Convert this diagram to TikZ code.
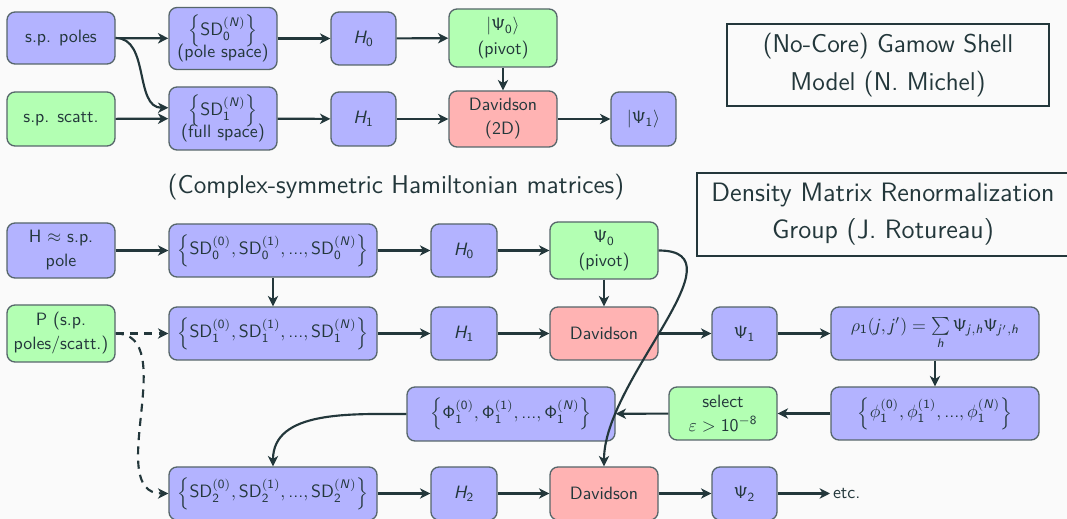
\documentclass[tikz,border=0pt]{standalone}
\usetikzlibrary{arrows.meta}
\DeclareMathAlphabet{\msf}{OT1}{cmss}{m}{n}
\DeclareMathAlphabet{\msfi}{OT1}{cmss}{m}{sl}
\newcommand\mysdset[1]{\left\{\msf{SD}_{\msf{#1}}^{(\msf{0})},\msf{SD}_{\msf{#1}}^{(\msf{1})},\mbox{...},\msf{SD}_{\msf{#1}}^{(\msfi{N})}\right\}}
\definecolor{tc}{HTML}{23373B}
\definecolor{bgc}{HTML}{FAFAFA}
\definecolor{bfill}{HTML}{B3B3FF}
\definecolor{gfill}{HTML}{B3FFB3}
\definecolor{rfill}{HTML}{FFB3B3}
\definecolor{bd}{HTML}{56666A}
\newdimen\pxu \pxu=0.56pt
\begin{document}
\begin{tikzpicture}[x=0.56pt,y=-0.56pt,
  font=\sffamily\fontsize{10}{13.4}\selectfont, text=tc,
  sz/.style 2 args={minimum width=#1\pxu, minimum height=#2\pxu},
  bx/.style={draw=bd, line width=0.75pt, rounded corners=4.5pt, align=center, inner sep=0pt, text=tc},
  bl/.style={bx, fill=bfill}, gr/.style={bx, fill=gfill}, rd/.style={bx, fill=rfill},
  bigtxt/.style={font=\sffamily\fontsize{14.4}{21.5}\selectfont, align=center, text=tc},
  ar/.style={draw=tc, line width=1.2pt, -{Stealth[length=5.8pt,width=5.8pt,inset=1.7pt]}},
  dar/.style={ar, dash pattern=on 4.5pt off 3.5pt}]
\useasboundingbox[fill=bgc] (0,0) rectangle (1067,519);
% ---------- top part ----------
\node[bl, sz={108}{52}] (poles) at (61,38) {s.p. poles};
\node[gr, sz={108}{54}] (scatt) at (61,119) {s.p. scatt.};
\node[bl, sz={108}{62}] (sdz) at (223,38.5) {$\left\{\msf{SD}_{\msf{0}}^{(\msfi{N})}\right\}$\\[-3pt](pole space)};
\node[bl, sz={108}{63}] (sdo) at (223,118.5) {$\left\{\msf{SD}_{\msf{1}}^{(\msfi{N})}\right\}$\\[-3pt](full space)};
\node[bl, sz={65}{53}] (hzt) at (363.5,38.5) {$\msfi{H}_{\msf{0}}$};
\node[bl, sz={65}{54}] (hot) at (363.5,119) {$\msfi{H}_{\msf{1}}$};
\node[gr, sz={108}{58}] (psizt) at (503,38) {$|\msf{\Psi}_{\msf{0}}\rangle$\\(pivot)};
\node[rd, sz={108}{56}] (davt) at (503,119) {Davidson\\(2D)};
\node[bl, sz={65}{54}] (psiot) at (643.5,119) {$|\msf{\Psi}_{\msf{1}}\rangle$};
\node[draw=tc, line width=1pt, sz={322}{82}, bigtxt] (t1) at (888,65) {(No-Core) Gamow Shell\\Model (N. Michel)};
\node[bigtxt] (cs) at (396,187) {(Complex-symmetric Hamiltonian matrices)};
\draw[tc, line width=1pt] (697,173) rectangle (1090,256);
\node[bigtxt, font=\sffamily\fontsize{14.9}{21}\selectfont] (t2) at (883,214) {Density Matrix Renormalization\\Group (J. Rotureau)};
\draw[ar] (poles) -- (sdz);
\draw[ar] (poles.east) to[out=0,in=180] ([yshift=6pt]sdo.west);
\draw[ar] (scatt) -- (sdo);
\draw[ar] (sdz) -- (hzt);
\draw[ar] (sdo) -- (hot);
\draw[ar] (hzt) -- (psizt);
\draw[ar] (hot) -- (davt);
\draw[ar] (psizt) -- (davt);
\draw[ar] (davt) -- (psiot);
% ---------- bottom part ----------
\node[bl, sz={108}{55}] (hsp) at (61,250.5) {H $\approx$ s.p.\\pole};
\node[gr, sz={108}{57}] (pp) at (61,333.5) {P (s.p.\\poles/scatt.)};
\node[bl, sz={208}{53}] (rz) at (273,250.5) {$\mysdset{0}$};
\node[bl, sz={208}{53}] (ro) at (273,333.5) {$\mysdset{1}$};
\node[bl, sz={208}{53}] (rt) at (273,493.5) {$\mysdset{2}$};
\node[bl, sz={66}{53}] (hz) at (464,250.5) {$\msfi{H}_{\msf{0}}$};
\node[gr, sz={108}{57}] (pz) at (604,250.5) {$\msf{\Psi}_{\msf{0}}$\\(pivot)};
\node[bl, sz={66}{53}] (ho) at (464,333.5) {$\msfi{H}_{\msf{1}}$};
\node[rd, sz={108}{53}] (dv) at (604,333.5) {Davidson};
\node[bl, sz={65}{53}] (po) at (744.5,333.5) {$\msf{\Psi}_{\msf{1}}$};
\node[bl, sz={208}{53}] (rho) at (935,333.5) {$\rho_{\msf{1}}(\msfi{j},\msfi{j}') = \sum\limits_{\msfi{h}} \msf{\Psi}_{\msfi{j},\msfi{h}}\msf{\Psi}_{\msfi{j}',\msfi{h}}$};
\node[bl, sz={208}{53}] (phi) at (935,413.5) {$\left\{\phi_{\msf{1}}^{(\msf{0})},\phi_{\msf{1}}^{(\msf{1})},\mbox{...},\phi_{\msf{1}}^{(\msfi{N})}\right\}$};
\node[gr, sz={108}{53}] (sel) at (723,413.5) {select\\$\varepsilon > \msf{10}^{-\msf{8}}$};
\node[bl, sz={208}{54}] (Phi) at (511,414) {$\left\{\msf{\Phi}_{\msf{1}}^{(\msf{0})},\msf{\Phi}_{\msf{1}}^{(\msf{1})},\mbox{...},\msf{\Phi}_{\msf{1}}^{(\msfi{N})}\right\}$};
\node[bl, sz={66}{53}] (ht) at (464,493.5) {$\msfi{H}_{\msf{2}}$};
\node[rd, sz={108}{53}] (dt) at (604,493.5) {Davidson};
\node[bl, sz={65}{53}] (pt) at (744.5,493.5) {$\msf{\Psi}_{\msf{2}}$};
\node[anchor=west, inner sep=1.5pt] (etc) at (830,493.5) {etc.};
\draw[ar] (hsp) -- (rz);
\draw[ar] (rz) -- (hz);
\draw[ar] (hz) -- (pz);
\draw[ar] (pz) -- (dv);
\draw[ar] (rz) -- (ro);
\draw[dar] (pp) -- (ro);
\draw[dar] (pp.east) to[out=0,in=180] (rt.west);
\draw[ar] (ro) -- (ho);
\draw[ar] (ho) -- (dv);
\draw[ar] (dv) -- (po);
\draw[ar] (po) -- (rho);
\draw[ar] (rho) -- (phi);
\draw[ar] (phi) -- (sel);
\draw[ar] (sel) -- (Phi);
\draw[ar] (Phi.west) to[out=180,in=90] (rt.north);
\draw[ar] (pz.east) to[out=0,in=90] (dt.north);
\draw[ar] (rt) -- (ht);
\draw[ar] (ht) -- (dt);
\draw[ar] (dt) -- (pt);
\draw[ar] (pt) -- (etc);
\end{tikzpicture}
\end{document}
